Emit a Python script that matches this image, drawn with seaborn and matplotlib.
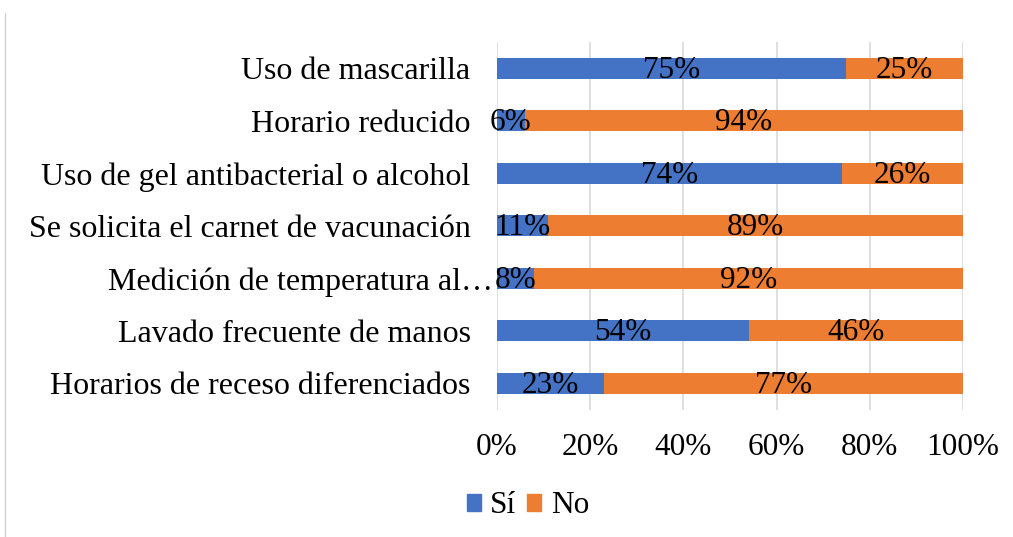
import matplotlib
matplotlib.use("Agg")
import matplotlib.pyplot as plt
import matplotlib.transforms as mtransforms
from matplotlib.lines import Line2D
from matplotlib.patches import Patch
import seaborn as sns
import pandas as pd

categorias = [
    "Uso de mascarilla",
    "Horario reducido",
    "Uso de gel antibacterial o alcohol",
    "Se solicita el carnet de vacunación",
    "Medición de temperatura al…",
    "Lavado frecuente de manos",
    "Horarios de receso diferenciados",
]
si = [75, 6, 74, 11, 8, 54, 23]
no = [25, 94, 26, 89, 92, 46, 77]
ticks = [0, 20, 40, 60, 80, 100]
tick_labels = ["0%", "20%", "40%", "60%", "80%", "100%"]

AZUL = "#4472C4"
NARANJA = "#ED7D31"

sns.set_theme(style="white")
plt.rcParams["font.family"] = ["Liberation Serif", "DejaVu Serif"]
plt.rcParams["text.color"] = "black"
plt.rcParams["xtick.color"] = "black"
plt.rcParams["ytick.color"] = "black"

df = pd.DataFrame({"cat": categorias, "si": si, "no": no})
df["total"] = df["si"] + df["no"]

fig = plt.figure(figsize=(10.13, 5.37), dpi=100)
ax = fig.add_axes([0.4906, 0.2374, 0.46, 0.6844])

sns.barplot(data=df, y="cat", x="total", color=NARANJA, orient="h",
            width=0.4, ax=ax, saturation=1, linewidth=0)
sns.barplot(data=df, y="cat", x="si", color=AZUL, orient="h",
            width=0.4, ax=ax, saturation=1, linewidth=0)

fs_cat = 23
fs_lab = 22.5
fs_tick = 22.5
for i, (s, n) in enumerate(zip(si, no)):
    ax.text(s / 2, i + 0.04, f"{s}%", ha="center", va="center", fontsize=fs_lab, color="black")
    ax.text(s + n / 2, i + 0.04, f"{n}%", ha="center", va="center", fontsize=fs_lab, color="black")

ax.set_xlim(0, 100)
ax.set_ylim(len(categorias) - 0.5, -0.5)
ax.set_xticks(ticks)
ax.set_xticklabels(tick_labels, fontsize=fs_tick)
ax.tick_params(axis="y", labelsize=fs_cat, length=0, pad=19, labelcolor="black")
ax.tick_params(axis="x", length=0, pad=17, labelcolor="black")
ax.set_xlabel("")
ax.set_ylabel("")
for sp in ax.spines.values():
    sp.set_visible(False)
ax.grid(axis="x", color="#D9D9D9", linewidth=1.2)
ax.set_axisbelow(True)

# the truncated label runs up to the bar
for lbl in ax.get_yticklabels():
    if lbl.get_text().endswith("…"):
        lbl.set_transform(lbl.get_transform() +
                          mtransforms.ScaledTranslation(22 / 100, 0, fig.dpi_scale_trans))

handles = [Patch(color=AZUL, label="Sí"), Patch(color=NARANJA, label="No")]
fig.legend(handles=handles, loc="center", bbox_to_anchor=(0.521, 0.058), ncol=2,
           frameon=False, fontsize=fs_tick, handlelength=0.45, handleheight=0.45,
           handletextpad=0.3, columnspacing=0.35, labelcolor="black")

fig.add_artist(Line2D([0.005, 0.005], [0.0, 0.976], color="#D0D0D0", linewidth=1))

fig.savefig("out.png", dpi=100)
